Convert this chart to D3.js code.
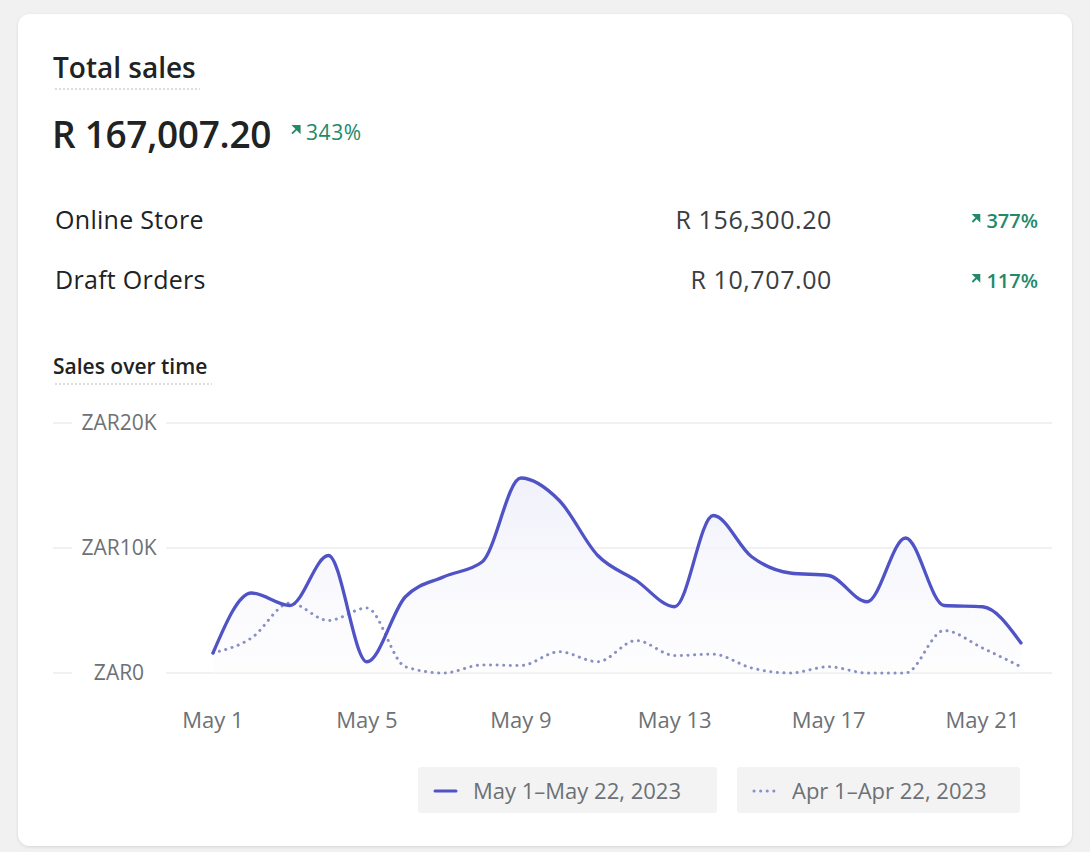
<!DOCTYPE html>
<html>
<head>
<meta charset="utf-8">
<script src="https://cdn.jsdelivr.net/npm/d3@7"></script>
<style>
  html, body { margin: 0; padding: 0; background: #f1f1f1; }
  svg { display: block; }
  text { font-family: "Open Sans", "Noto Sans", sans-serif; }
</style>
</head>
<body>
<svg id="chart" width="1090" height="852"></svg>
<script>
// Daily sales, May 1–22 2023 (ZAR)
const currentDays = ["2023-05-01","2023-05-02","2023-05-03","2023-05-04","2023-05-05","2023-05-06",
  "2023-05-07","2023-05-08","2023-05-09","2023-05-10","2023-05-11","2023-05-12","2023-05-13",
  "2023-05-14","2023-05-15","2023-05-16","2023-05-17","2023-05-18","2023-05-19","2023-05-20",
  "2023-05-21","2023-05-22"];
const currentSales = [1600, 6400, 5400, 9400, 900, 6100, 7700, 8900, 15600, 13800, 9400,
  7400, 5300, 12600, 9300, 8000, 7800, 5700, 10800, 5400, 5300, 2400];
// Comparison period, Apr 1–22 2023 (ZAR)
const previousSales = [1600, 2800, 5600, 4200, 5200, 500, 0, 650, 600, 1700, 900,
  2600, 1400, 1500, 400, 0, 500, 0, 0, 3400, 2000, 500];

const yTicks = [0, 10000, 20000];
const xTickDays = ["2023-05-01","2023-05-05","2023-05-09","2023-05-13","2023-05-17","2023-05-21"];

const breakdownNames = ["Online Store", "Draft Orders"];
const breakdownValues = ["R 156,300.20", "R 10,707.00"];
const breakdownChanges = ["377%", "117%"];
const legendLabels = ["May 1–May 22, 2023", "Apr 1–Apr 22, 2023"];

const GREEN = "#23896a";
const LINE = "#4f53c6";
const DOTS = "#8890c4";
const INK = "#202223";
const MUTED = "#6d7175";

const svg = d3.select("#chart");
const parse = d3.utcParse("%Y-%m-%d");

// Card
const defs = svg.append("defs");
const sh = defs.append("filter").attr("id", "shadow").attr("x", "-5%").attr("y", "-5%")
  .attr("width", "110%").attr("height", "110%");
sh.append("feDropShadow").attr("dx", 0).attr("dy", 1).attr("stdDeviation", 1.5)
  .attr("flood-color", "#000").attr("flood-opacity", 0.12);
svg.append("rect").attr("x", 18).attr("y", 14).attr("width", 1054).attr("height", 832)
  .attr("rx", 12).attr("fill", "#fff").attr("filter", "url(#shadow)");

function upArrow(g, x, y, s) {
  // small north-east arrow
  s = s || 1;
  g.append("path")
    .attr("d", `M${x},${y + 7 * s} L${x + 6 * s},${y + 1 * s} M${x + 1.5 * s},${y} L${x + 7 * s},${y} L${x + 7 * s},${y + 5.5 * s} Z`)
    .attr("stroke", GREEN).attr("stroke-width", 1.8).attr("fill", GREEN)
    .attr("stroke-linejoin", "miter");
}

// Header
svg.append("text").attr("x", 53).attr("y", 78).attr("font-size", 28).attr("font-weight", 600)
  .attr("fill", INK).text("Total sales");
svg.append("line").attr("x1", 55).attr("x2", 200).attr("y1", 89).attr("y2", 89)
  .attr("stroke", "#b9bcc0").attr("stroke-width", 1.2).attr("stroke-dasharray", "2 2");

svg.append("text").attr("x", 52).attr("y", 148).attr("font-size", 37).attr("font-weight", 600)
  .attr("fill", INK).attr("letter-spacing", -0.3).text("R 167,007.20");
upArrow(svg, 292, 126, 1.1);
svg.append("text").attr("x", 306).attr("y", 140).attr("font-size", 21).attr("fill", GREEN)
  .attr("letter-spacing", 0.6).text("343%");

// Breakdown rows
breakdownNames.forEach((name, i) => {
  const y = 229 + i * 60;
  svg.append("text").attr("x", 55).attr("y", y).attr("font-size", 25).attr("fill", INK)
    .attr("letter-spacing", 0.3).text(name);
  svg.append("text").attr("x", 832).attr("y", y).attr("font-size", 25).attr("fill", "#3b3d40")
    .attr("letter-spacing", 0.6).attr("text-anchor", "end").text(breakdownValues[i]);
  const t = svg.append("text").attr("x", 1038).attr("y", y - 1).attr("font-size", 20)
    .attr("fill", GREEN).attr("font-weight", 600).attr("text-anchor", "end").text(breakdownChanges[i]);
  const w = t.node().getComputedTextLength();
  upArrow(svg, 1038 - w - 14, y - 14);
});

// Chart subtitle
svg.append("text").attr("x", 53).attr("y", 374).attr("font-size", 21).attr("font-weight", 600)
  .attr("fill", INK).text("Sales over time");
svg.append("line").attr("x1", 55).attr("x2", 212).attr("y1", 384).attr("y2", 384)
  .attr("stroke", "#b9bcc0").attr("stroke-width", 1.2).attr("stroke-dasharray", "2 2");

// Scales
const x = d3.scaleUtc()
  .domain([parse(currentDays[0]), parse(currentDays[currentDays.length - 1])])
  .range([213, 1021]);
const y = d3.scaleLinear().domain([0, 20000]).range([673, 423]);

const current = currentDays.map((d, i) => ({ date: parse(d), value: currentSales[i] }));
const previous = currentDays.map((d, i) => ({ date: parse(d), value: previousSales[i] }));

// Grid + y labels
const yAxis = svg.append("g");
yAxis.selectAll("line").data(yTicks).join("line")
  .attr("x1", 53).attr("x2", 1052)
  .attr("y1", d => y(d)).attr("y2", d => y(d))
  .attr("stroke", "#ededed").attr("stroke-width", 1.5);
const fmtY = d => "ZAR" + (d === 0 ? "0" : d3.format("~s")(d).replace("k", "K"));
const yl = yAxis.selectAll("g.lab").data(yTicks).join("g").attr("class", "lab");
yl.append("rect").attr("x", 72).attr("width", 94).attr("y", d => y(d) - 14).attr("height", 28).attr("fill", "#fff");
yl.append("text").attr("x", 119).attr("y", d => y(d) + 7).attr("text-anchor", "middle")
  .attr("font-size", 21).attr("fill", MUTED).text(fmtY);

// Area under current series
const grad = defs.append("linearGradient").attr("id", "areaFill")
  .attr("x1", 0).attr("x2", 0).attr("y1", 0).attr("y2", 1);
grad.append("stop").attr("offset", "0%").attr("stop-color", "#eeeff9").attr("stop-opacity", 0.9);
grad.append("stop").attr("offset", "100%").attr("stop-color", "#fbfbfe").attr("stop-opacity", 0.4);

const curve = d3.curveMonotoneX;
svg.append("path").datum(current)
  .attr("d", d3.area().x(d => x(d.date)).y0(y(0)).y1(d => y(d.value)).curve(curve))
  .attr("fill", "url(#areaFill)");

// Comparison series (dotted)
svg.append("path").datum(previous)
  .attr("d", d3.line().x(d => x(d.date)).y(d => y(d.value)).curve(curve))
  .attr("fill", "none").attr("stroke", DOTS).attr("stroke-width", 3)
  .attr("stroke-linecap", "round").attr("stroke-dasharray", "0.1 6.5");

// Current series
svg.append("path").datum(current)
  .attr("d", d3.line().x(d => x(d.date)).y(d => y(d.value)).curve(curve))
  .attr("fill", "none").attr("stroke", LINE).attr("stroke-width", 3.3)
  .attr("stroke-linejoin", "round").attr("stroke-linecap", "round");

// X axis labels
const fmtX = d3.utcFormat("%b %-d");
svg.append("g").selectAll("text").data(xTickDays.map(parse)).join("text")
  .attr("x", d => x(d)).attr("y", 728).attr("text-anchor", "middle")
  .attr("font-size", 22).attr("fill", MUTED).text(fmtX);

// Legend
const legend = svg.append("g");
const items = [
  { x: 418, w: 299, label: legendLabels[0], dotted: false },
  { x: 737, w: 283, label: legendLabels[1], dotted: true }
];
items.forEach(it => {
  const g = legend.append("g");
  g.append("rect").attr("x", it.x).attr("y", 767).attr("width", it.w).attr("height", 46)
    .attr("rx", 3).attr("fill", "#f3f3f3");
  g.append("line").attr("x1", it.x + 17).attr("x2", it.x + 38).attr("y1", 791).attr("y2", 791)
    .attr("stroke", it.dotted ? DOTS : LINE).attr("stroke-width", 3)
    .attr("stroke-linecap", "round")
    .attr("stroke-dasharray", it.dotted ? "0.1 6.5" : null);
  g.append("text").attr("x", it.x + 55).attr("y", 799).attr("font-size", 22)
    .attr("fill", MUTED).text(it.label);
});
</script>
</body>
</html>
